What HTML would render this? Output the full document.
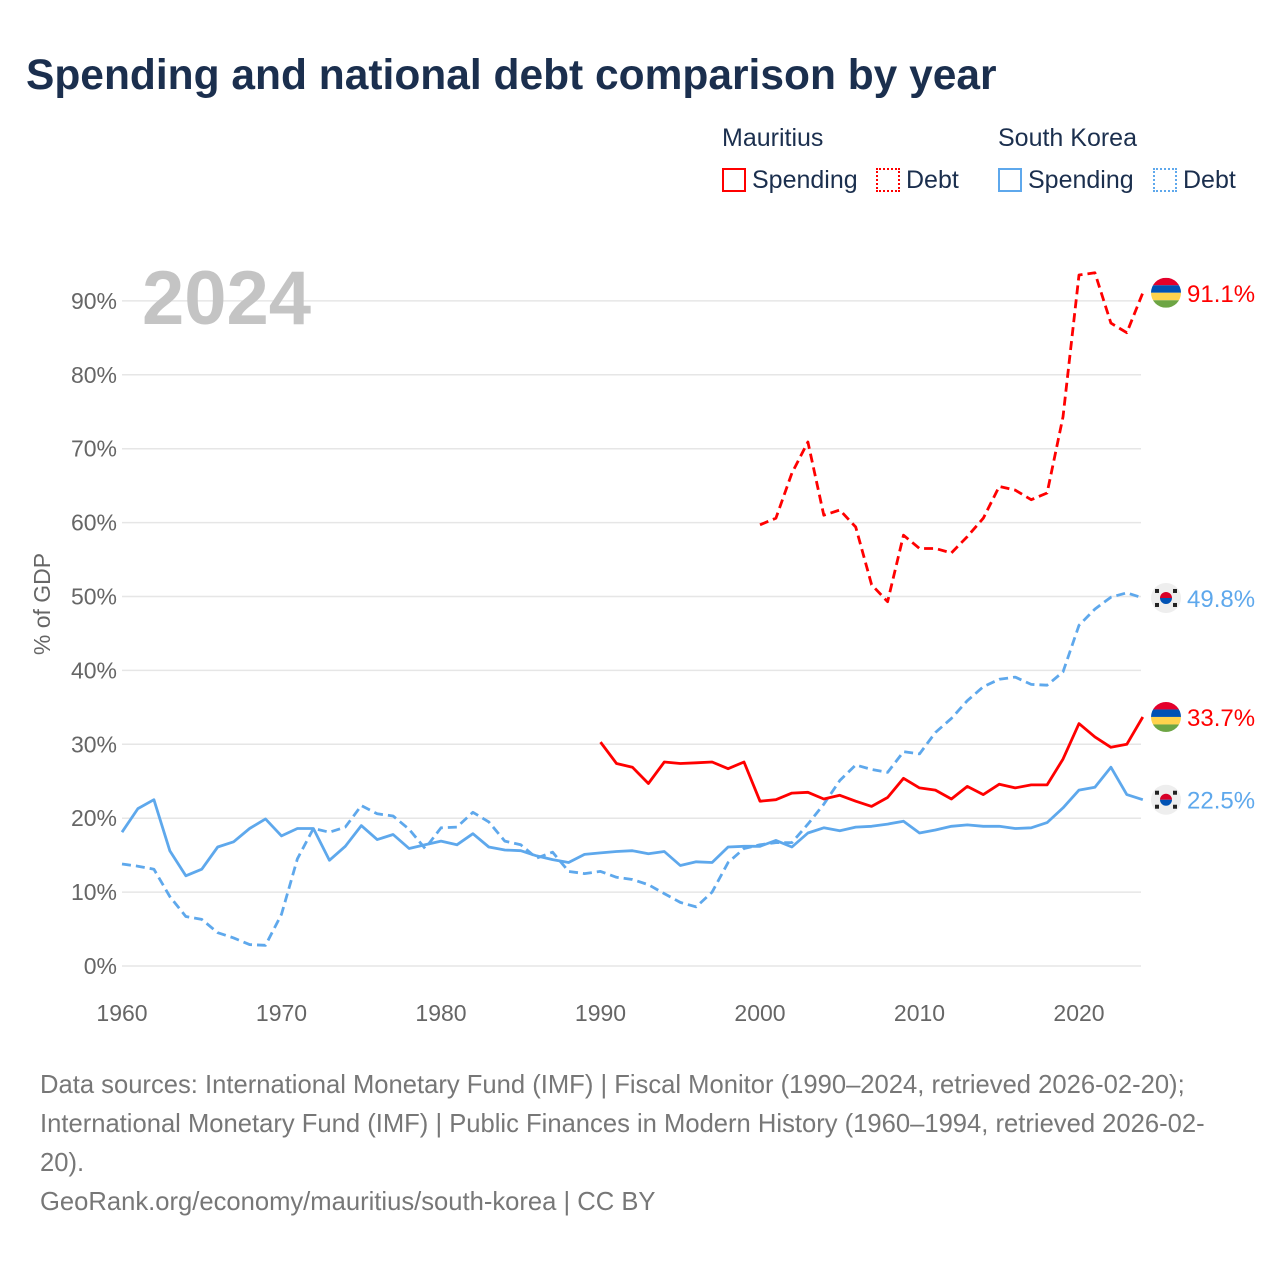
<!DOCTYPE html>
<html><head><meta charset="utf-8">
<style>
body{margin:0;background:#fff;font-family:"Liberation Sans",sans-serif;}
#wrap{position:relative;width:1280px;height:1280px;overflow:hidden;}
.t{position:absolute;white-space:nowrap;}
</style></head>
<body><div id="wrap">
<div class="t" style="left:26px;top:52px;font-size:42.5px;font-weight:bold;color:#1b2f4e;">Spending and national debt comparison by year</div>
<div class="t" style="left:722px;top:124px;font-size:25px;color:#1b2f4e;">Mauritius</div>
<div class="t" style="left:998px;top:124px;font-size:25px;color:#1b2f4e;">South Korea</div>
<div class="t" style="left:722px;top:166px;font-size:25px;color:#1b2f4e;"><span style="display:inline-block;width:24px;height:24px;border:2px solid #f00;box-sizing:border-box;vertical-align:-4px;margin-right:6px"></span>Spending</div>
<div class="t" style="left:876px;top:166px;font-size:25px;color:#1b2f4e;"><span style="display:inline-block;width:24px;height:24px;border:2px dotted #f00;box-sizing:border-box;vertical-align:-4px;margin-right:6px"></span>Debt</div>
<div class="t" style="left:998px;top:166px;font-size:25px;color:#1b2f4e;"><span style="display:inline-block;width:24px;height:24px;border:2px solid #5ea8ec;box-sizing:border-box;vertical-align:-4px;margin-right:6px"></span>Spending</div>
<div class="t" style="left:1153px;top:166px;font-size:25px;color:#1b2f4e;"><span style="display:inline-block;width:24px;height:24px;border:2px dotted #5ea8ec;box-sizing:border-box;vertical-align:-4px;margin-right:6px"></span>Debt</div>
<svg id="chart" width="1280" height="1280" style="position:absolute;left:0;top:0"></svg>
<div class="t" style="left:40px;top:1066px;font-size:25.6px;line-height:39px;color:#777;white-space:normal;width:1190px;">Data sources: International Monetary Fund (IMF) | Fiscal Monitor (1990–2024, retrieved 2026-02-20); International Monetary Fund (IMF) | Public Finances in Modern History (1960–1994, retrieved 2026-02-20).<br>GeoRank.org/economy/mauritius/south-korea | CC BY</div>
</div>
<script>
const yTicks=[0,10,20,30,40,50,60,70,80,90];
const xTicks=[1960,1970,1980,1990,2000,2010,2020];
const krSpendStart=1960;
const krSpend=[18.1,21.3,22.5,15.6,12.2,13.1,16.1,16.8,18.6,19.9,17.6,18.6,18.6,14.3,16.2,19.0,17.1,17.8,15.9,16.4,16.9,16.4,17.9,16.1,15.7,15.6,14.9,14.4,14.0,15.1,15.3,15.5,15.6,15.2,15.5,13.6,14.1,14.0,16.1,16.2,16.2,17.0,16.1,18.0,18.7,18.3,18.8,18.9,19.2,19.6,18.0,18.4,18.9,19.1,18.9,18.9,18.6,18.7,19.4,21.4,23.8,24.2,26.9,23.2,22.5];
const krDebtStart=1960;
const krDebt=[13.8,13.5,13.1,9.4,6.7,6.3,4.5,3.8,2.9,2.8,7.0,14.5,18.6,18.1,18.8,21.7,20.6,20.3,18.5,15.9,18.7,18.8,20.8,19.5,16.9,16.4,14.6,15.4,12.8,12.5,12.8,12.0,11.7,11.0,9.8,8.6,8.0,10.0,14.0,15.9,16.4,16.7,16.7,19.2,21.9,25.1,27.2,26.6,26.2,29.0,28.7,31.6,33.5,35.9,37.8,38.8,39.1,38.1,38.0,39.8,46.1,48.3,49.9,50.5,49.8];
const muSpendStart=1990;
const muSpend=[30.3,27.4,26.9,24.7,27.6,27.4,27.5,27.6,26.7,27.6,22.3,22.5,23.4,23.5,22.6,23.1,22.3,21.6,22.8,25.4,24.1,23.8,22.6,24.3,23.2,24.6,24.1,24.5,24.5,28.0,32.8,31.0,29.6,30.0,33.7];
const muDebtStart=2000;
const muDebt=[59.7,60.6,66.7,70.9,61.0,61.7,59.4,51.6,49.3,58.3,56.5,56.5,55.9,58.1,60.6,64.9,64.4,63.1,64.0,74.3,93.5,93.8,87.0,85.7,91.1];

const NS='http://www.w3.org/2000/svg';
const svg=document.getElementById('chart');
const X=yr=>122+(yr-1960)*15.95;
const Y=v=>966-v*7.39;
function mk(tag,attrs,parent){const e=document.createElementNS(NS,tag);for(const k in attrs)e.setAttribute(k,attrs[k]);(parent||svg).appendChild(e);return e;}
yTicks.forEach(v=>{
  const g=mk('line',{x1:122,x2:1141,y1:Y(v),y2:Y(v),stroke:'#e6e6e6','stroke-width':1.5});
  
  
  const t=mk('text',{x:117,y:Y(v)+8,'text-anchor':'end','font-size':23,fill:'#666','font-family':'Liberation Sans, sans-serif'});
  t.textContent=v+'%';
  
  
});
xTicks.forEach(yr=>{
  const t=mk('text',{x:X(yr),y:1021,'text-anchor':'middle','font-size':23,fill:'#666','font-family':'Liberation Sans, sans-serif'});
  t.textContent=yr;
  
  
});
const yt=mk('text',{x:0,y:0,transform:'translate(50,604) rotate(-90)','text-anchor':'middle','font-size':23,fill:'#666','font-family':'Liberation Sans, sans-serif'});
yt.textContent='% of GDP';


const yr=mk('text',{x:142,y:324,'font-size':76,'font-weight':'bold',fill:'#c4c4c4','font-family':'Liberation Sans, sans-serif'});
yr.textContent='2024';


function series(start,vals,color,dash,name){
  const d=vals.map((v,i)=>(i?'L':'M')+X(start+i).toFixed(1)+','+Y(v).toFixed(1)).join(' ');
  const p=mk('path',{d:d,fill:'none',stroke:color,'stroke-width':2.8,'stroke-linejoin':'round'});
  if(dash)p.setAttribute('stroke-dasharray','9,5');
  
  
}
series(krDebtStart,krDebt,'#5ea8ec',true,'kr-debt-line');
series(krSpendStart,krSpend,'#5ea8ec',false,'kr-spending-line');
series(muDebtStart,muDebt,'#f00',true,'mu-debt-line');
series(muSpendStart,muSpend,'#f00',false,'mu-spending-line');
function endLabel(vals,color,flag,name){
  const v=vals[vals.length-1];const cy=Y(v);const cx=1166;
  const g=mk('g',{});
  
  
  if(flag==='mu'){
    const cp=mk('clipPath',{id:'c'+name},g);mk('circle',{cx:cx,cy:cy,r:15},cp);
    const cols=['#e4002b','#0052b4','#ffd34d','#6da544'];
    cols.forEach((c,i)=>mk('rect',{x:cx-15,y:cy-15+i*7.5,width:30,height:7.5,fill:c,'clip-path':'url(#c'+name+')'},g));
  }else{
    mk('circle',{cx:cx,cy:cy,r:15,fill:'#eee'},g);
    mk('path',{d:`M${cx-6},${cy} A6,6 0 0 1 ${cx+6},${cy} Z`,fill:'#d80027'},g);
    mk('path',{d:`M${cx-6},${cy} A6,6 0 0 0 ${cx+6},${cy} Z`,fill:'#0052b4'},g);
    [[-9,-7],[9,-7],[-9,7],[9,7]].forEach(o=>mk('rect',{x:cx+o[0]-2,y:cy+o[1]-2,width:4,height:4,fill:'#222'},g));
  }
  const t=mk('text',{x:1187,y:cy+9,'font-size':24,fill:color,'font-family':'Liberation Sans, sans-serif'});
  t.textContent=v.toFixed(1)+'%';
  
  
}
endLabel(muDebt,'#f00','mu','mu-debt');
endLabel(krDebt,'#5ea8ec','kr','kr-debt');
endLabel(muSpend,'#f00','mu','mu-spending');
endLabel(krSpend,'#5ea8ec','kr','kr-spending');
</script>
</body></html>
